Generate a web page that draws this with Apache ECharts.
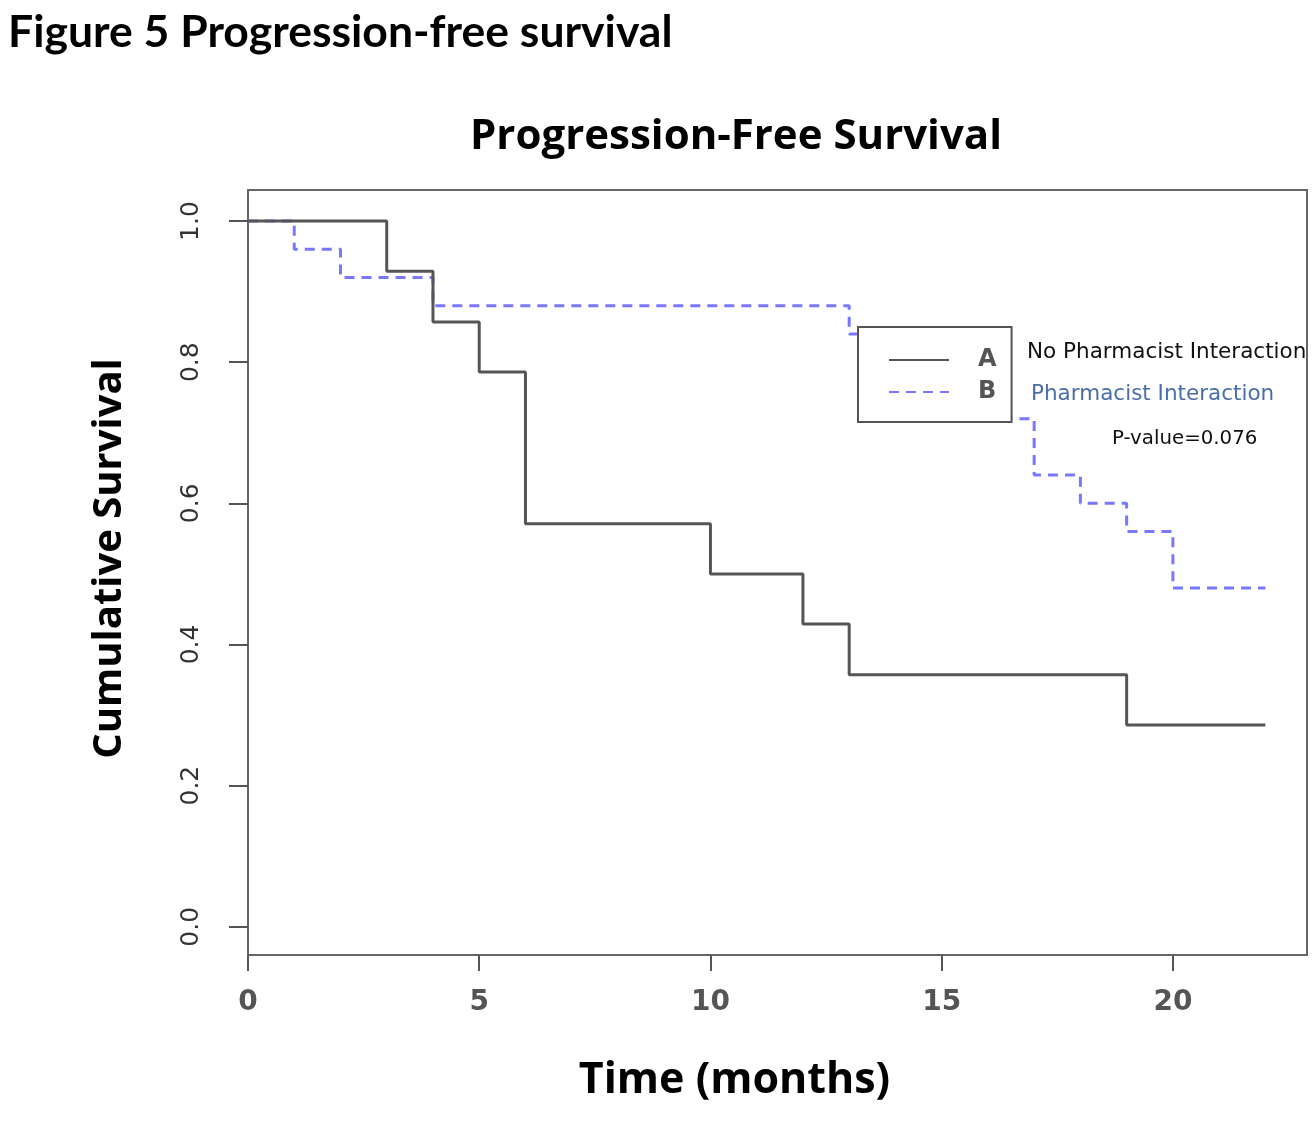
<!DOCTYPE html>
<html>
<head>
<meta charset="utf-8">
<script src="https://cdn.jsdelivr.net/npm/echarts@6/dist/echarts.min.js"></script>
<style>
html,body{margin:0;padding:0;background:#fff;}
#chart{width:1312px;height:1140px;}
</style>
</head>
<body>
<div id="chart"></div>
<script>
// Data
const timesA = [0, 3, 4, 5, 6, 10, 12, 13, 19, 22];
const survA  = [1.0, 0.929, 0.857, 0.786, 0.571, 0.5, 0.429, 0.357, 0.286, 0.286];
const timesB = [0, 1, 2, 4, 13, 14, 15, 16, 17, 18, 19, 20, 22];
const survB  = [1.0, 0.96, 0.92, 0.88, 0.84, 0.80, 0.76, 0.72, 0.64, 0.60, 0.56, 0.48, 0.48];
const xTicks = [0, 5, 10, 15, 20];
const yTicks = [0, 0.2, 0.4, 0.6, 0.8, 1.0];
const seriesNames = ['A', 'B'];
const groupLabels = ['No Pharmacist Interaction', 'Pharmacist Interaction'];
const pValueText = 'P-value=0.076';
const figureTitle = 'Figure 5 Progression-free survival';
const chartTitle = 'Progression-Free Survival';
const xName = 'Time (months)';
const yName = 'Cumulative Survival';

const pairs = (xs, ys) => xs.map((x, i) => [x, ys[i]]);

const chart = echarts.init(document.getElementById('chart'));

chart.setOption({
  animation: false,
  backgroundColor: '#fff',
  grid: {left: 248, top: 190, right: 5, bottom: 185, show: true, borderColor: '#666', borderWidth: 2, backgroundColor: 'transparent'},
  xAxis: {
    type: 'value', min: 0, max: 22.9,
    axisLine: {show: false, onZero: false},
    splitLine: {show: false},
    axisTick: {show: true, inside: false, length: 16, lineStyle: {color: '#555', width: 2}, customValues: xTicks},
    axisLabel: {margin: 34, customValues: xTicks, formatter: v => String(v),
      color: '#555', fontFamily: 'DejaVu Sans', fontWeight: 'bold', fontSize: 28},
    name: xName, nameLocation: 'middle', nameGap: 104,
    nameTextStyle: {color: '#000', fontFamily: 'Open Sans', fontWeight: 'bold', fontSize: 43, padding: [0, 86, 0, 0]}
  },
  yAxis: {
    type: 'value', min: -0.04, max: 1.044,
    axisLine: {show: false, onZero: false},
    splitLine: {show: false},
    axisTick: {show: true, inside: false, length: 19, lineStyle: {color: '#555', width: 2}, customValues: yTicks},
    axisLabel: {margin: 44, rotate: 90, customValues: yTicks, formatter: v => v.toFixed(1),
      color: '#333', fontFamily: 'DejaVu Sans', fontWeight: 'normal', fontSize: 25},
    name: yName, nameLocation: 'middle', nameGap: 118, nameRotate: 90,
    nameTextStyle: {color: '#000', fontFamily: 'Open Sans', fontWeight: 'bold', fontSize: 40, padding: [26, 0, 0, 28]}
  },
  legend: {
    orient: 'vertical', left: 858, top: 327, z: 20,
    data: seriesNames,
    backgroundColor: '#fff', borderColor: '#555', borderWidth: 2,
    padding: [21, 15, 18, 30],
    itemWidth: 60, itemHeight: 14, itemGap: 8,
    selectedMode: false,
    itemStyle: {opacity: 0},
    textStyle: {color: '#555', fontFamily: 'DejaVu Sans', fontWeight: 'bold', fontSize: 24, padding: [0, 0, 0, 24]}
  },
  series: [
    {
      name: seriesNames[0], type: 'line', step: 'end', showSymbol: false, symbol: 'none',
      data: pairs(timesA, survA),
      lineStyle: {color: '#555', width: 3},
      itemStyle: {color: '#555'}, z: 3
    },
    {
      name: seriesNames[1], type: 'line', step: 'end', showSymbol: false, symbol: 'none',
      data: pairs(timesB, survB),
      lineStyle: {color: '#7878ff', width: 3, type: [10, 7]},
      itemStyle: {color: '#7878ff'}, z: 2
    }
  ],
  graphic: [
    {type: 'text', x: 8, y: 33, z: 30, style: {text: figureTitle, fill: '#000', font: 'bold 44.5px Lato', textVerticalAlign: 'middle'}},
    {type: 'text', x: 736, y: 137, z: 30, style: {text: chartTitle, fill: '#000', font: 'bold 42px "Open Sans"', textAlign: 'center', textVerticalAlign: 'middle'}},
    {type: 'text', x: 1027, y: 352, z: 30, style: {text: groupLabels[0], fill: '#111', font: '21.5px "DejaVu Sans"', textVerticalAlign: 'middle'}},
    {type: 'text', x: 1031, y: 394, z: 30, style: {text: groupLabels[1], fill: '#4a6fa8', font: '21.5px "DejaVu Sans"', textVerticalAlign: 'middle'}},
    {type: 'text', x: 1112, y: 439, z: 30, style: {text: pValueText, fill: '#111', font: '19.8px "DejaVu Sans"', textVerticalAlign: 'middle'}}
  ]
});
</script>
</body>
</html>
